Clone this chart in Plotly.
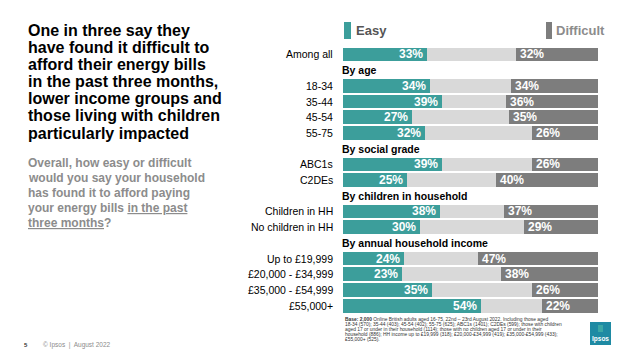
import plotly.graph_objects as go

# ---------------- data ----------------
row_labels = ["Among all", "By age", "18-34", "35-44", "45-54", "55-75",
              "By social grade", "ABC1s", "C2DEs",
              "By children in household", "Children in HH", "No children in HH",
              "By annual household income", "Up to £19,999", "£20,000 - £34,999",
              "£35,000 - £54,999", "£55,000+"]
row_is_header = [False, True, False, False, False, False,
                 True, False, False,
                 True, False, False,
                 True, False, False, False, False]
easy = [33, None, 34, 39, 27, 32, None, 39, 25, None, 38, 30, None, 24, 23, 35, 54]
difficult = [32, None, 34, 36, 35, 26, None, 26, 40, None, 37, 29, None, 47, 38, 26, 22]

title_lines = ["One in three say they", "have found it difficult to",
               "afford their energy bills", "in the past three months,",
               "lower income groups and", "those living with children",
               "particularly impacted"]
question_lines = ["Overall, how easy or difficult", "would you say your household",
                  "has found it to afford paying",
                  "your energy bills <u>in the past</u>", "<u>three months</u>?"]
base_lines = [
    "<b>Base: 2,000</b> Online British adults aged 16-75, 22nd – 23rd August 2022. Including those aged",
    "18-34 (570); 35-44 (403); 45-54 (402); 55-75 (625); ABC1s (1401); C2DEs (599); those with children",
    "aged 17 or under in their household (1114); those with no children aged 17 or under in their",
    "household (886); HH income up to £19,999 (318); £20,000-£34,999 (419); £35,000-£54,999 (433);",
    "£55,000+ (525).",
]

# ---------------- style ----------------
W, H = 641, 360
FONT = "Liberation Sans, Arial, sans-serif"
TEAL = "#3c9e9b"
DGRAY = "#7d7d7d"
LGRAY = "#d9d9d9"

data_idx = [i for i, h in enumerate(row_is_header) if not h]
head_idx = [i for i, h in enumerate(row_is_header) if h]

fig = go.Figure()
bw = 0.87
fig.add_trace(go.Bar(y=data_idx, x=[100] * len(data_idx), orientation="h",
                     marker=dict(color=LGRAY, line=dict(width=0)), width=bw,
                     hoverinfo="skip", showlegend=False))
fig.add_trace(go.Bar(y=data_idx, x=[easy[i] for i in data_idx], orientation="h",
                     marker=dict(color=TEAL, line=dict(width=0)), width=bw,
                     name="Easy", showlegend=False))
fig.add_trace(go.Bar(y=data_idx, x=[difficult[i] for i in data_idx],
                     base=[100 - difficult[i] for i in data_idx], orientation="h",
                     marker=dict(color=DGRAY, line=dict(width=0)), width=bw,
                     name="Difficult", showlegend=False))

ann = []
for i in data_idx:
    ann.append(dict(x=easy[i], y=i, xref="x", yref="y", text=f"<b>{easy[i]}%</b>",
                    xanchor="right", yanchor="middle", xshift=-2, showarrow=False,
                    font=dict(family=FONT, size=12, color="white")))
    ann.append(dict(x=100 - difficult[i], y=i, xref="x", yref="y",
                    text=f"<b>{difficult[i]}%</b>",
                    xanchor="left", yanchor="middle", xshift=2, showarrow=False,
                    font=dict(family=FONT, size=12, color="white")))
    ann.append(dict(x=0, y=i, xref="x", yref="y", text=row_labels[i],
                    xanchor="right", yanchor="middle", xshift=-8, showarrow=False,
                    font=dict(family=FONT, size=10.5, color="#000000")))
for i in head_idx:
    ann.append(dict(x=0, y=i, xref="x", yref="y", text=f"<b>{row_labels[i]}</b>",
                    xanchor="left", yanchor="middle", xshift=-3, showarrow=False,
                    font=dict(family=FONT, size=10.5, color="#000000")))


def px(x, y):
    return x / W, 1 - y / H


# legend
for (x0, x1, col, label, tx, tcol) in [(344, 351, TEAL, "Easy", 354, "#555555"),
                                         (546, 552, DGRAY, "Difficult", 554, "#8c8c8c")]:
    fig.add_shape(type="rect", xref="paper", yref="paper",
                  x0=x0 / W, x1=x1 / W, y0=1 - 39 / H, y1=1 - 22 / H,
                  fillcolor=col, line=dict(width=0))
    xx, yy = px(tx, 30.5)
    ann.append(dict(x=xx, y=yy, xref="paper", yref="paper", text=f"<b>{label}</b>",
                    xanchor="left", yanchor="middle", showarrow=False,
                    font=dict(family=FONT, size=13, color=tcol)))

# title
for k, line in enumerate(title_lines):
    xx, yy = px(26, 30 + 17.2 * k)
    ann.append(dict(x=xx, y=yy, xref="paper", yref="paper", text=f"<b>{line}</b>",
                    xanchor="left", yanchor="middle", showarrow=False,
                    font=dict(family=FONT, size=16, color="#000000")))
# question
for k, line in enumerate(question_lines):
    xx, yy = px(26, 162.7 + 15.15 * k)
    ann.append(dict(x=xx, y=yy, xref="paper", yref="paper", text=f"<b>{line}</b>",
                    xanchor="left", yanchor="middle", showarrow=False,
                    font=dict(family=FONT, size=12, color="#8c8c8c")))
# base note
for k, line in enumerate(base_lines):
    xx, yy = px(343, 319.5 + 5 * k)
    ann.append(dict(x=xx, y=yy, xref="paper", yref="paper", text=line,
                    xanchor="left", yanchor="middle", showarrow=False,
                    font=dict(family=FONT, size=4.9, color="#333333")))
# footer
xx, yy = px(22, 345)
ann.append(dict(x=xx, y=yy, xref="paper", yref="paper", text="<b>5</b>",
                xanchor="left", yanchor="middle", showarrow=False,
                font=dict(family=FONT, size=6, color="#333333")))
xx, yy = px(41, 345)
ann.append(dict(x=xx, y=yy, xref="paper", yref="paper", text="© Ipsos  |  August 2022",
                xanchor="left", yanchor="middle", showarrow=False,
                font=dict(family=FONT, size=6.5, color="#8c8c8c")))

# logo
fig.add_shape(type="rect", xref="paper", yref="paper",
              x0=590 / W, x1=611 / W, y0=1 - 345 / H, y1=1 - 322 / H,
              fillcolor="#1e8aa3", line=dict(width=0))
fig.add_shape(type="rect", xref="paper", yref="paper",
              x0=598 / W, x1=603 / W, y0=1 - 332 / H, y1=1 - 325 / H,
              fillcolor="#3aa7a6", line=dict(width=0))
xx, yy = px(600.5, 339)
ann.append(dict(x=xx, y=yy, xref="paper", yref="paper", text="<b>Ipsos</b>",
                xanchor="center", yanchor="middle", showarrow=False,
                font=dict(family=FONT, size=6.5, color="white")))

fig.update_layout(
    width=W, height=H, margin=dict(l=0, r=0, t=0, b=0),
    paper_bgcolor="white", plot_bgcolor="white",
    barmode="overlay", bargap=0,
    xaxis=dict(domain=[343 / W, 598 / W], range=[0, 100], visible=False, fixedrange=True),
    yaxis=dict(domain=[0, 1], range=[19.459, -3.471], visible=False, fixedrange=True),
    annotations=ann, showlegend=False,
    font=dict(family=FONT),
)
fig.write_html("out.html", config={"displayModeBar": False},
               post_script="document.body.style.margin='0';document.body.style.overflow='hidden';")
